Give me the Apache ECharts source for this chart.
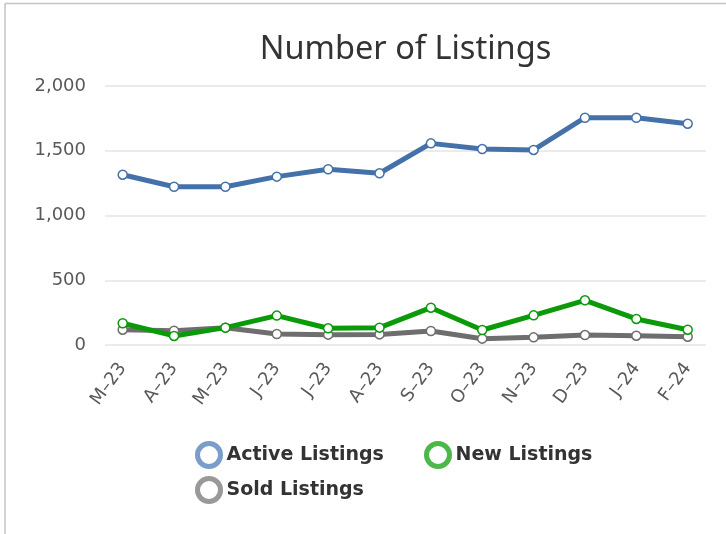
<!DOCTYPE html>
<html>
<head>
<meta charset="utf-8">
<script src="https://cdn.jsdelivr.net/npm/echarts@6/dist/echarts.min.js"></script>
<style>
html,body{margin:0;padding:0;background:#fff;}
#chart{width:726px;height:534px;}
</style>
</head>
<body>
<div id="chart"></div>
<script>
const categories = ['M\u201323','A\u201323','M\u201323','J\u201323','J\u201323','A\u201323','S\u201323','O\u201323','N\u201323','D\u201323','J\u201324','F\u201324'];
const activeListings = [1315, 1222, 1222, 1300, 1357, 1326, 1557, 1513, 1506, 1755, 1755, 1709];
const newListings = [168, 70, 134, 227, 129, 134, 288, 116, 229, 345, 201, 118];
const soldListings = [118, 111, 134, 85, 80, 82, 108, 49, 59, 77, 72, 64];
const yTicks = [0, 500, 1000, 1500, 2000];

const chart = echarts.init(document.getElementById('chart'), null, {renderer: 'canvas'});
const fmt = v => v.toLocaleString('en-US');
const labelFont = 'DejaVu Sans';

function mkLegend(name, left, top, ring) {
  return {
    data: [name], left: left, top: top, padding: 0, orient: 'horizontal',
    icon: 'circle', itemWidth: 23, itemHeight: 23,
    itemStyle: {color: '#fff', borderColor: ring, borderWidth: 5},
    textStyle: {fontFamily: labelFont, fontWeight: 'bold', fontSize: 19, color: '#333', padding: [0, 0, 0, 1]}
  };
}

const option = {
  animation: false,
  backgroundColor: '#fff',
  title: {
    text: 'Number of Listings', left: 405.5, top: 33, textAlign: 'center', padding: 0,
    textStyle: {fontFamily: 'Noto Sans', fontWeight: 'normal', fontSize: 32.5, color: '#333'}
  },
  graphic: [
    {type: 'line', shape: {x1: 5, y1: 3.5, x2: 726, y2: 3.5}, style: {stroke: '#c4c4c4', lineWidth: 1.5}},
    {type: 'line', shape: {x1: 5, y1: 3.5, x2: 5, y2: 534}, style: {stroke: '#c4c4c4', lineWidth: 1.5}}
  ],
  legend: [
    mkLegend('Active Listings', 195, 441, '#7b9dc9'),
    mkLegend('New Listings', 424, 441, '#4cb84a'),
    mkLegend('Sold Listings', 195, 476, '#999999')
  ],
  grid: [
    {left: 105, right: 20, top: 86, bottom: 189},
    {left: 122.7, right: 38.3, top: 86, bottom: 189}
  ],
  xAxis: [
    {type: 'category', gridIndex: 0, data: categories, show: false},
    {type: 'category', gridIndex: 1, data: categories, boundaryGap: false,
     axisLine: {show: false}, axisTick: {show: false},
     axisLabel: {rotate: 54, margin: 20, fontFamily: labelFont, fontSize: 18, color: '#595959', interval: 0}}
  ],
  yAxis: [
    {type: 'value', gridIndex: 0, min: yTicks[0], max: yTicks[yTicks.length-1], interval: 500,
     axisLine: {show: false}, axisTick: {show: false},
     axisLabel: {margin: 19, fontFamily: labelFont, fontSize: 18, color: '#595959', formatter: fmt},
     splitLine: {lineStyle: {color: '#e4e4e4', width: 1.6}}},
    {type: 'value', gridIndex: 1, min: yTicks[0], max: yTicks[yTicks.length-1], interval: 500, show: false, splitLine: {show: false}}
  ],
  series: [
    {name: 'Sold Listings', type: 'line', xAxisIndex: 1, yAxisIndex: 1, data: soldListings,
     lineStyle: {color: '#6e6e6e', width: 5}, symbol: 'circle', symbolSize: 9,
     itemStyle: {color: '#fff', borderColor: '#6e6e6e', borderWidth: 1.5}, z: 2},
    {name: 'New Listings', type: 'line', xAxisIndex: 1, yAxisIndex: 1, data: newListings,
     lineStyle: {color: '#0a9a0a', width: 5}, symbol: 'circle', symbolSize: 9,
     itemStyle: {color: '#fff', borderColor: '#0a9a0a', borderWidth: 1.5}, z: 3},
    {name: 'Active Listings', type: 'line', xAxisIndex: 1, yAxisIndex: 1, data: activeListings,
     lineStyle: {color: '#4571aa', width: 5}, symbol: 'circle', symbolSize: 9,
     itemStyle: {color: '#fff', borderColor: '#4571aa', borderWidth: 1.5}, z: 4}
  ]
};
chart.setOption(option);
</script>
</body>
</html>
